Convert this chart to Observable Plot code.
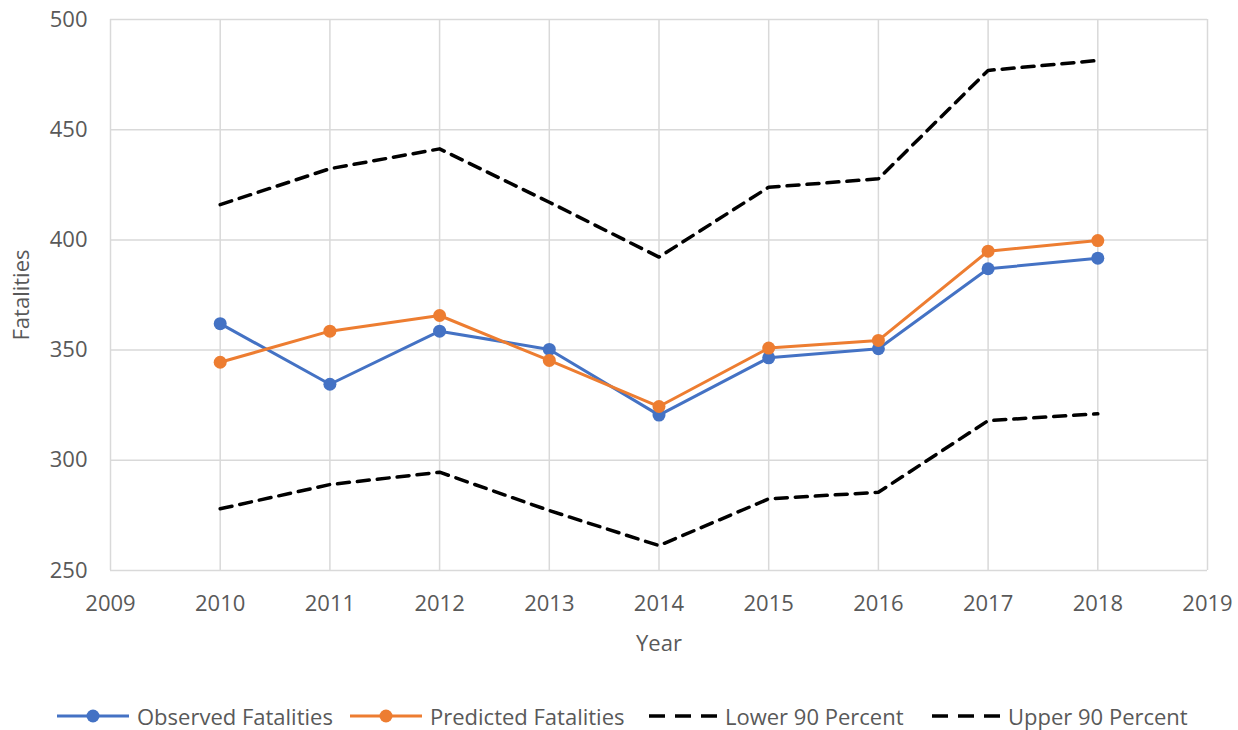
<!DOCTYPE html>
<html>
<head>
<meta charset="utf-8">
<script src="https://cdn.jsdelivr.net/npm/d3@7"></script>
<script src="https://cdn.jsdelivr.net/npm/@observablehq/plot@0.6"></script>
<style>
  body { margin: 0; background: #fff; font-family: "Open Sans", sans-serif; }
  #chart svg { display: block; }
  #legend { position: absolute; top: 704px; left: 0; width: 1238px; height: 24px; font-size: 22px; line-height: 24px; color: #595959; white-space: nowrap; }
  #legend .item { position: absolute; top: 0; height: 24px; display: flex; align-items: center; }
  #legend svg { margin-right: 8px; flex: none; }
</style>
</head>
<body>
<div id="chart"></div>
<div id="legend"></div>
<script>
const years = [2010, 2011, 2012, 2013, 2014, 2015, 2016, 2017, 2018];
const observed = [362, 334.5, 358.6, 350.3, 320.5, 346.5, 350.6, 386.9, 391.7];
const predicted = [344.5, 358.6, 365.7, 345.3, 324.4, 350.9, 354.4, 394.9, 399.7];
const lower90 = [278, 289, 294.6, 277.2, 261.3, 282.5, 285.5, 318, 321.1];
const upper90 = [416, 432.3, 441.3, 417.1, 392.2, 423.9, 427.7, 476.9, 481.4];
const xTicks = [2009, 2010, 2011, 2012, 2013, 2014, 2015, 2016, 2017, 2018, 2019];
const yTicks = [250, 300, 350, 400, 450, 500];
const seriesNames = ["Observed Fatalities", "Predicted Fatalities", "Lower 90 Percent", "Upper 90 Percent"];

const blue = "#4472C4", orange = "#ED7D31";
const obs = years.map((y, i) => ({year: y, value: observed[i]}));
const pred = years.map((y, i) => ({year: y, value: predicted[i]}));
const low = years.map((y, i) => ({year: y, value: lower90[i]}));
const up = years.map((y, i) => ({year: y, value: upper90[i]}));

const chart = Plot.plot({
  width: 1238,
  height: 700,
  marginLeft: 110,
  marginRight: 31,
  marginTop: 19,
  marginBottom: 130,
  style: {fontFamily: "Open Sans, sans-serif", fontSize: "22px", color: "#595959", background: "#fff"},
  x: {domain: [2009, 2019]},
  y: {domain: [250, 500]},
  marks: [
    Plot.gridX(xTicks, {stroke: "#d9d9d9", strokeOpacity: 1, strokeWidth: 1.5}),
    Plot.gridY(yTicks, {stroke: "#d9d9d9", strokeOpacity: 1, strokeWidth: 1.5}),
    Plot.axisX(xTicks, {tickSize: 0, tickPadding: 25, tickFormat: "d", label: "Year", labelAnchor: "center", labelOffset: 80, labelArrow: "none", fill: "#595959"}),
    Plot.axisY(yTicks, {tickSize: 0, tickPadding: 23, label: "Fatalities", labelAnchor: "center", labelOffset: 97, labelArrow: "none", fill: "#595959"}),
    Plot.line(low, {x: "year", y: "value", stroke: "#000", strokeWidth: 3.5, strokeDasharray: "12,8"}),
    Plot.line(up, {x: "year", y: "value", stroke: "#000", strokeWidth: 3.5, strokeDasharray: "12,8"}),
    Plot.line(obs, {x: "year", y: "value", stroke: blue, strokeWidth: 3}),
    Plot.dot(obs, {x: "year", y: "value", fill: blue, r: 6.5}),
    Plot.line(pred, {x: "year", y: "value", stroke: orange, strokeWidth: 3}),
    Plot.dot(pred, {x: "year", y: "value", fill: orange, r: 6.5})
  ]
});
document.getElementById("chart").appendChild(chart);

const swatches = [
  {color: blue, dash: null, dot: true, left: 57},
  {color: orange, dash: null, dot: true, left: 350},
  {color: "#000", dash: "16,10", dot: false, left: 649},
  {color: "#000", dash: "16,10", dot: false, left: 932}
];
const legend = d3.select("#legend");
seriesNames.forEach((name, i) => {
  const s = swatches[i];
  const item = legend.append("div").attr("class", "item").style("left", s.left + "px");
  const w = s.dot ? 72 : 68;
  const svg = item.append("svg").attr("width", w).attr("height", 20);
  svg.append("line").attr("x1", 0).attr("x2", w).attr("y1", 10).attr("y2", 10)
    .attr("stroke", s.color).attr("stroke-width", s.dot ? 3 : 3.5)
    .attr("stroke-dasharray", s.dash);
  if (s.dot) svg.append("circle").attr("cx", w / 2).attr("cy", 10).attr("r", 6.5).attr("fill", s.color);
  item.append("span").text(name);
});
</script>
</body>
</html>
